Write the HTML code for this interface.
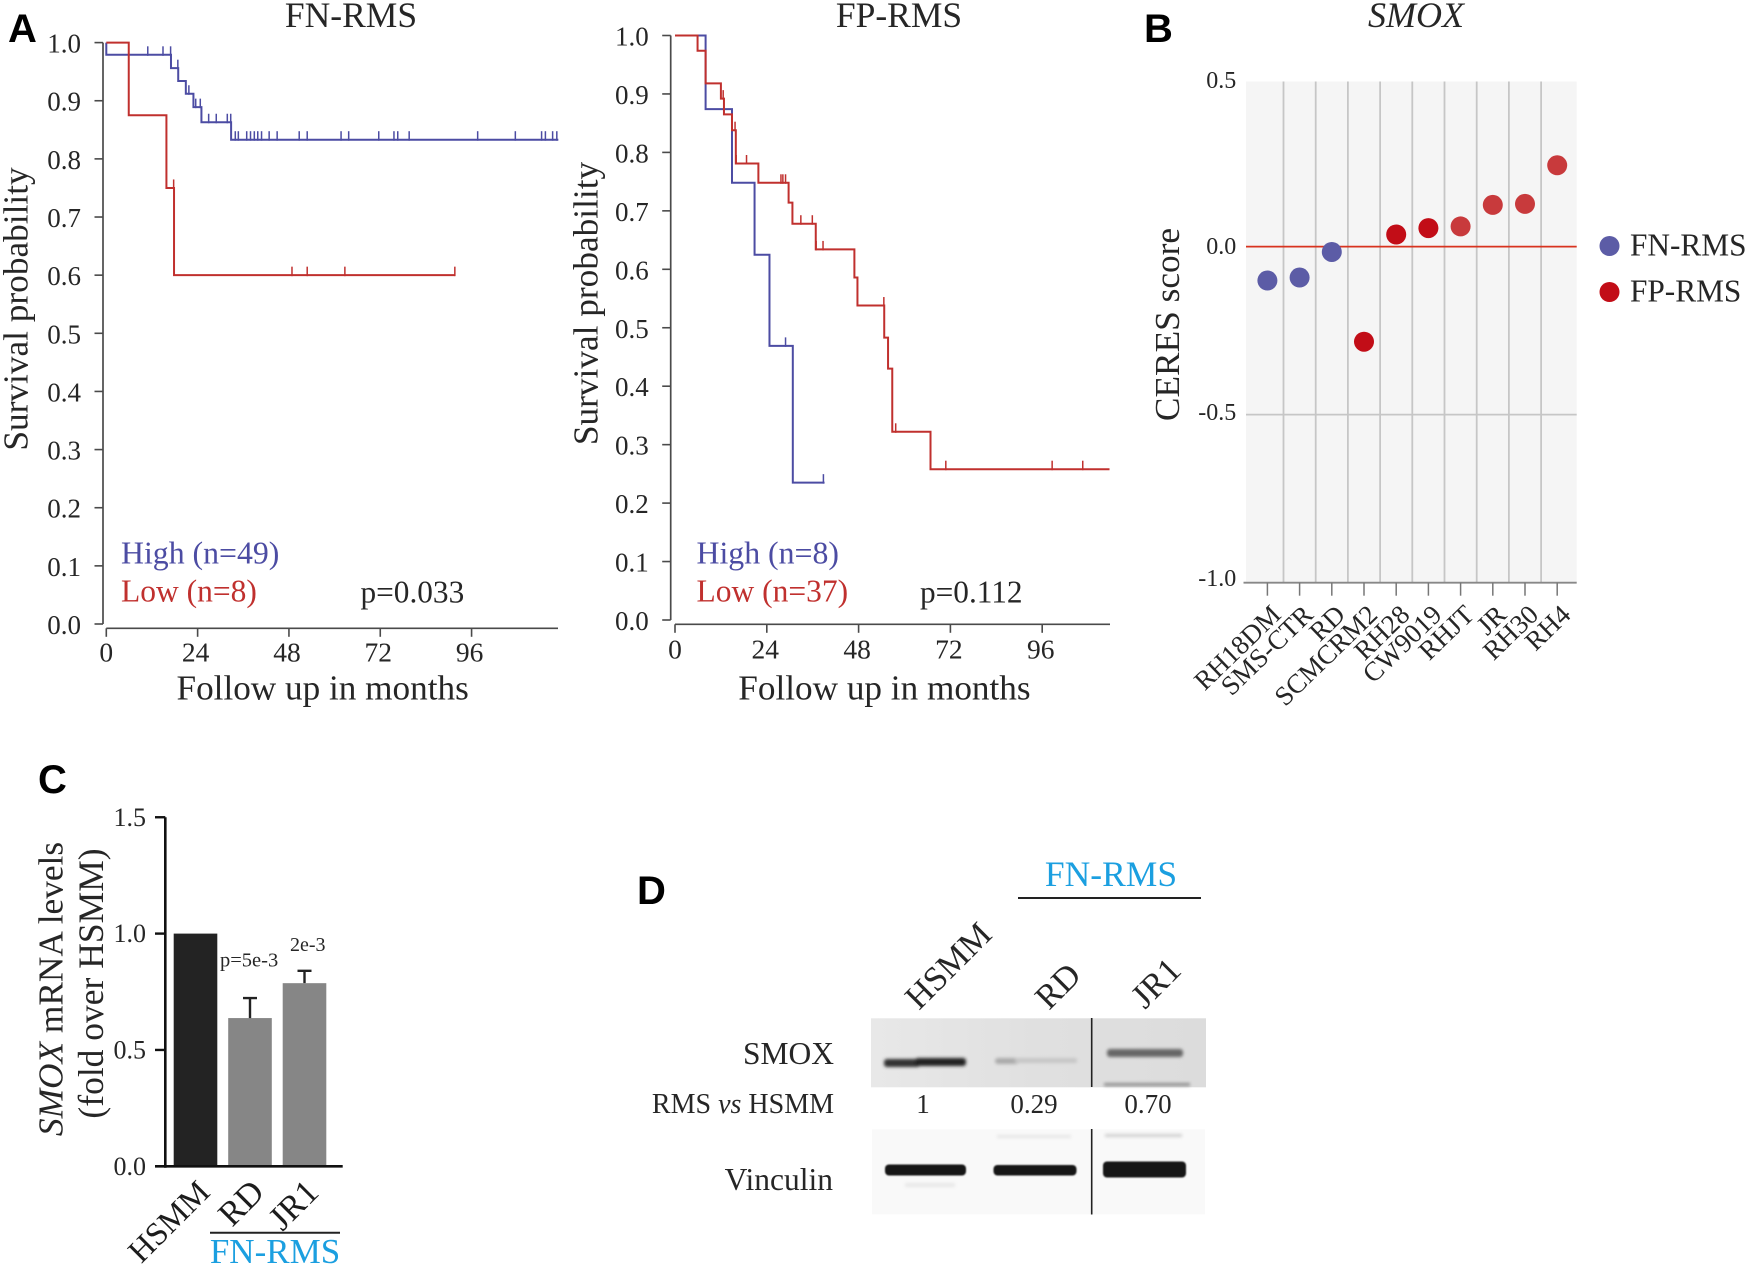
<!DOCTYPE html>
<html lang="en">
<head>
<meta charset="utf-8">
<title>SMOX survival, CERES score, mRNA and western blot figure</title>
<style>
html,body{margin:0;padding:0;background:#fff;width:1748px;height:1268px;overflow:hidden}
svg{display:block}
text{font-family:"Liberation Serif",serif;fill:#262626}
.letter{font-family:"Liberation Sans",sans-serif;font-weight:700;font-size:40px;fill:#000}
</style>
</head>
<body>
<svg id="figure" width="1748" height="1268" viewBox="0 0 1748 1268" xmlns="http://www.w3.org/2000/svg">
  <defs>
    <filter id="soft" x="-20%" y="-150%" width="140%" height="400%"><feGaussianBlur stdDeviation="1.6"/></filter>
    <filter id="softer" x="-20%" y="-50%" width="140%" height="200%"><feGaussianBlur stdDeviation="0.9"/></filter>
    <linearGradient id="blotShade" x1="0" y1="0" x2="1" y2="0"><stop offset="0" stop-color="#e8e8e8"/><stop offset="0.5" stop-color="#e0e0e0"/><stop offset="1" stop-color="#dcdcdc"/></linearGradient>
  </defs>
  <text class="letter" x="8" y="42">A</text>
  <text class="letter" x="1144" y="42">B</text>
  <text class="letter" x="38" y="793">C</text>
  <text class="letter" x="637" y="904">D</text>

  <g id="km-left"></g>
  <g id="km-right"></g>
  <g id="ceres"></g>
  <g id="bars"></g>

  <g>
    <text x="1111" y="886" font-size="35.5" text-anchor="middle" style="fill:#1b9fe0">FN-RMS</text>
    <line x1="1018" y1="898" x2="1201" y2="898" stroke="#222" stroke-width="2"/>
    <text transform="translate(919 1011) rotate(-45)" font-size="34.5">HSMM</text>
    <text transform="translate(1049 1011) rotate(-45)" font-size="34.5">RD</text>
    <text transform="translate(1145 1010) rotate(-45)" font-size="34.5">JR1</text>
    <rect x="871" y="1018.3" width="335" height="69" fill="url(#blotShade)"/>
    <g filter="url(#soft)">
      <rect x="884" y="1059" width="36" height="8" rx="3" fill="#333"/>
      <rect x="915" y="1058" width="51" height="8" rx="3" fill="#222"/>
      <rect x="995" y="1058" width="24" height="6" rx="3" fill="#aaa"/>
      <rect x="1015" y="1058" width="62" height="5" rx="2" fill="#c6c6c6"/>
      <rect x="1107" y="1049" width="76" height="8" rx="3" fill="#666"/>
      <rect x="1104" y="1083" width="86" height="3" fill="#8e8e8e"/>
    </g>
    <line x1="1091.7" y1="1018" x2="1091.7" y2="1087" stroke="#222" stroke-width="1.6"/>
    <rect x="872" y="1129.3" width="333" height="85" fill="#f9f9f9"/>
    <g filter="url(#soft)">
      <rect x="997" y="1135" width="74" height="3" fill="#e6e6e6"/>
      <rect x="1105" y="1134" width="77" height="3" fill="#cfcfcf"/>
      <rect x="905" y="1183" width="50" height="4" fill="#e8e8e8"/>
    </g>
    <g filter="url(#softer)">
      <rect x="885" y="1164.5" width="81" height="11" rx="4" fill="#141414"/>
      <rect x="993.5" y="1165" width="83" height="10.5" rx="4" fill="#141414"/>
      <rect x="1103" y="1161.5" width="83" height="16" rx="4" fill="#141414"/>
    </g>
    <line x1="1091.7" y1="1129" x2="1091.7" y2="1214.5" stroke="#222" stroke-width="1.6"/>
    <text x="834" y="1064" font-size="31.5" text-anchor="end">SMOX</text>
    <text x="834" y="1113" font-size="28" text-anchor="end">RMS <tspan font-style="italic">vs</tspan> HSMM</text>
    <text x="923" y="1113" font-size="27" text-anchor="middle">1</text>
    <text x="1034" y="1113" font-size="27" text-anchor="middle">0.29</text>
    <text x="1148" y="1113" font-size="27" text-anchor="middle">0.70</text>
    <text x="833" y="1190" font-size="31.5" text-anchor="end">Vinculin</text>
  </g>
</svg>

<script>
// ---------- Kaplan-Meier data (months / survival probability) ----------
const kmYTicks = [0.0, 0.1, 0.2, 0.3, 0.4, 0.5, 0.6, 0.7, 0.8, 0.9, 1.0];
const kmXTicks = [0, 24, 48, 72, 96];

const fnHighTimes = [0, 0, 17, 18.9, 20.9, 22.9, 25, 32.8];
const fnHighSurv = [1, 0.979, 0.956, 0.934, 0.912, 0.889, 0.863, 0.833];
const fnHighEnd = 118.8;
const fnHighCensor = [10.9, 14.9, 16.9, 18.8, 21.7, 23.5, 24.7, 26.9, 28.9, 31.8, 32.7, 33.9, 34.7, 36.9, 37.9, 38.9, 39.8, 40.8, 42.8, 44.9, 50.7, 52.8, 61.7, 63.7, 71.6, 75.6, 76.6, 79.6, 97.6, 107.5, 114.4, 115.4, 117.3, 118.4];
const fnLowTimes = [0, 5.9, 15.8, 17.8];
const fnLowSurv = [1, 0.875, 0.75, 0.6];
const fnLowEnd = 91.6;
const fnLowCensor = [17.7, 48.8, 52.8, 62.7, 91.6];

const fpHighTimes = [0, 8, 14.9, 20.8, 24.7, 30.8];
const fpHighSurv = [1, 0.874, 0.748, 0.625, 0.469, 0.235];
const fpHighEnd = 39.1;
const fpHighCensor = [28.9, 38.8];
const fpLowTimes = [0, 5.9, 8, 12, 12.8, 14.9, 15.9, 21.8, 29.7, 30.7, 36.8, 46.9, 47.7, 54.7, 55.7, 56.8, 66.8];
const fpLowSurv = [1, 0.974, 0.918, 0.892, 0.865, 0.838, 0.781, 0.748, 0.714, 0.678, 0.634, 0.586, 0.538, 0.483, 0.430, 0.322, 0.258];
const fpLowEnd = 113.6;
const fpLowCensor = [12.6, 15.7, 16, 18.7, 27.7, 28.2, 28.9, 32.9, 35.9, 36.9, 38.7, 54.6, 57.7, 70.8, 98.6, 106.6];

// ---------- CERES data ----------
const ceresLines = ['RH18DM', 'SMS-CTR', 'RD', 'SCMCRM2', 'RH28', 'CW9019', 'RHJT', 'JR', 'RH30', 'RH4'];
const ceresValues = [-0.101, -0.092, -0.016, -0.283, 0.036, 0.055, 0.060, 0.124, 0.127, 0.242];
const ceresGroups = ['FN', 'FN', 'FN', 'FP', 'FP', 'FP', 'FP', 'FP', 'FP', 'FP'];
const ceresYTicks = [0.5, 0.0, -0.5, -1.0];
const ceresLegend = ['FN-RMS', 'FP-RMS'];

// ---------- mRNA bar data ----------
const barCategories = ['HSMM', 'RD', 'JR1'];
const barValues = [1.0, 0.637, 0.787];
const barErrors = [0, 0.086, 0.053];
const barYTicks = [0.0, 0.5, 1.0, 1.5];
const barPLabels = ['', 'p=5e-3', '2e-3'];

const SVGNS = 'http://www.w3.org/2000/svg';
function mk(tag, parent, attrs, txt) {
  const n = document.createElementNS(SVGNS, tag);
  for (const k in attrs) n.setAttribute(k, attrs[k]);
  if (txt !== undefined) n.textContent = txt;
  parent.appendChild(n);
  return n;
}
const BLUE = '#4c4ca3', RED = '#c0302e', AXIS = '#4a4a4a';

function survivalAt(times, surv, t) {
  let s = surv[0];
  for (let i = 0; i < times.length; i++) { if (times[i] <= t) s = surv[i]; }
  return s;
}
function drawSeries(g, name, color, times, surv, end, censor, X, Y) {
  let d = 'M' + X(times[0]) + ' ' + Y(surv[0]);
  for (let i = 1; i < times.length; i++) {
    d += 'H' + X(times[i]) + 'V' + Y(surv[i]);
  }
  d += 'H' + X(end);
  const p = mk('path', g, {d: d, fill: 'none', stroke: color, 'stroke-width': 2});
  
  
  censor.forEach(function (t) {
    const v = survivalAt(times, surv, t);
    const c = mk('line', g, {x1: X(t), x2: X(t), y1: Y(v) + 1, y2: Y(v) - 8.5, stroke: color, 'stroke-width': 1.5});
    
    
  });
}
function drawKM(cfg) {
  const g = document.getElementById(cfg.id);
  const X = function (m) { return cfg.x0 + m * cfg.xk; };
  const Y = function (v) { return cfg.y0 - v * cfg.yk; };
  const ya = mk('line', g, {x1: cfg.axisX, x2: cfg.axisX, y1: Y(1), y2: Y(0), stroke: AXIS, 'stroke-width': 1.7});
  
  
  const xa = mk('line', g, {x1: X(0), x2: cfg.xEnd, y1: cfg.axisY, y2: cfg.axisY, stroke: AXIS, 'stroke-width': 1.7});
  
  
  kmYTicks.forEach(function (v) {
    const t = mk('line', g, {x1: cfg.axisX - 8.5, x2: cfg.axisX, y1: Y(v), y2: Y(v), stroke: AXIS, 'stroke-width': 1.6});
    
    
    const l = mk('text', g, {x: cfg.axisX - 22, y: Y(v) + 10, 'font-size': 27, 'text-anchor': 'end'}, v.toFixed(1));
    
    
  });
  kmXTicks.forEach(function (m) {
    const t = mk('line', g, {x1: X(m), x2: X(m), y1: cfg.axisY, y2: cfg.axisY + 8.5, stroke: AXIS, 'stroke-width': 1.6});
    
    
    const l = mk('text', g, {x: X(m) + (m === 0 ? 0 : cfg.tickShift), y: cfg.xLabelY, 'font-size': 27.5, 'text-anchor': 'middle'}, String(m));
    
    
  });
  const title = mk('text', g, {x: cfg.titleX, y: 27, 'font-size': 35.5, 'text-anchor': 'middle'}, cfg.title);
  
  
  const xt = mk('text', g, {x: cfg.xlabelX, y: 699.3, 'font-size': 35.2}, 'Follow up in months');
  
  
  const yt = mk('text', g, {transform: 'translate(' + cfg.ylabelX + ' ' + cfg.ylabelY + ') rotate(-90)', 'font-size': 35.3, 'text-anchor': 'middle'}, 'Survival probability');
  
  
  const hi = mk('text', g, {x: cfg.legendX, y: 563.5, 'font-size': 31.8, style: 'fill:' + BLUE}, cfg.highLabel);
  
  
  const lo = mk('text', g, {x: cfg.legendX, y: 601.7, 'font-size': 31.5, style: 'fill:' + RED}, cfg.lowLabel);
  
  
  const pv = mk('text', g, {x: cfg.pX, y: 602.5, 'font-size': 31.3}, cfg.p);
  
  
  drawSeries(g, 'high', BLUE, cfg.high[0], cfg.high[1], cfg.high[2], cfg.high[3], X, Y);
  drawSeries(g, 'low', RED, cfg.low[0], cfg.low[1], cfg.low[2], cfg.low[3], X, Y);
}

drawKM({id: 'km-left', title: 'FN-RMS', titleX: 351, x0: 106.3, xk: 3.805, y0: 624, yk: 581.4, axisX: 103, axisY: 628.3, xEnd: 558, xLabelY: 661.7, tickShift: -2,
  xlabelX: 176.5, ylabelX: 27.5, ylabelY: 309, legendX: 121, pX: 360.5, p: 'p=0.033', highLabel: 'High (n=49)', lowLabel: 'Low (n=8)',
  high: [fnHighTimes, fnHighSurv, fnHighEnd, fnHighCensor], low: [fnLowTimes, fnLowSurv, fnLowEnd, fnLowCensor]});
drawKM({id: 'km-right', title: 'FP-RMS', titleX: 899, x0: 675, xk: 3.825, y0: 620, yk: 584.5, axisX: 670.7, axisY: 624.3, xEnd: 1110, xLabelY: 658.3, tickShift: -1.5,
  xlabelX: 738.3, ylabelX: 597.5, ylabelY: 303.5, legendX: 696.5, pX: 920, p: 'p=0.112', highLabel: 'High (n=8)', lowLabel: 'Low (n=37)',
  high: [fpHighTimes, fpHighSurv, fpHighEnd, fpHighCensor], low: [fpLowTimes, fpLowSurv, fpLowEnd, fpLowCensor]});

// ---------- Panel B ----------
(function () {
  const g = document.getElementById('ceres');
  const Y = function (v) { return 246.6 - v * 336.1; };
  const LY = function (v) { return 254.2 - v * 332; };
  const X = function (i) { return 1267.4 + i * 32.2; };
  const right = 1576.7, left = 1246;
  const bg = mk('rect', g, {x: left, y: 81.5, width: right - left, height: Y(-1) - 81.5, fill: '#f5f5f5'});
  
  
  ceresLines.slice(1).forEach(function (_, i) {
    const gx = mk('line', g, {x1: X(i) + 16.1, x2: X(i) + 16.1, y1: 81.5, y2: Y(-1), stroke: '#c6c6c6', 'stroke-width': 1.8});
    
    
  });
  ceresYTicks.forEach(function (v) {
    if (v === -0.5) {
      const gy = mk('line', g, {x1: left, x2: right, y1: Y(v), y2: Y(v), stroke: '#c6c6c6', 'stroke-width': 1.8});
      
      
    }
    const l = mk('text', g, {x: 1236.3, y: LY(v), 'font-size': 24, 'text-anchor': 'end'}, v.toFixed(1));
    
    
  });
  const zero = mk('line', g, {x1: left, x2: right, y1: Y(0), y2: Y(0), stroke: '#d8331f', 'stroke-width': 1.8});
  
  
  const xa = mk('line', g, {x1: 1243.5, x2: right, y1: Y(-1), y2: Y(-1), stroke: '#888', 'stroke-width': 1.8});
  
  
  ceresLines.forEach(function (name, i) {
    const t = mk('line', g, {x1: X(i), x2: X(i), y1: Y(-1), y2: Y(-1) + 13, stroke: '#777', 'stroke-width': 1.5});
    
    
    const l = mk('text', g, {transform: 'translate(' + (X(i) + 15) + ' 616.5) rotate(-44)', 'font-size': 27, 'text-anchor': 'end'}, name);
    
    
    const lighter = i === 6 || i === 7 || i === 8 || i === 9;
    const fill = ceresGroups[i] === 'FN' ? '#5c5ca6' : (lighter ? '#c83a3c' : '#c20d17');
    const c = mk('circle', g, {cx: X(i), cy: Y(ceresValues[i]), r: 10, fill: fill});
    
    
  });
  ceresLegend.forEach(function (name, i) {
    const c = mk('circle', g, {cx: 1609.5, cy: 246 + i * 46, r: 10, fill: i === 0 ? '#5c5ca6' : '#c20d17'});
    
    
    const l = mk('text', g, {x: 1630, y: 255.5 + i * 46, 'font-size': 31.3}, name);
    
    
  });
  const title = mk('text', g, {x: 1416, y: 27, 'font-size': 36, 'font-style': 'italic', 'text-anchor': 'middle'}, 'SMOX');
  
  
  const yt = mk('text', g, {transform: 'translate(1179 324.5) rotate(-90)', 'font-size': 35.3, 'text-anchor': 'middle'}, 'CERES score');
  
  
})();

// ---------- Panel C ----------
(function () {
  const g = document.getElementById('bars');
  const Y = function (v) { return 1166.3 - v * 232.7; };
  const X = function (i) { return 173.7 + i * 54.5; };
  const w = 43.6;
  barCategories.forEach(function (name, i) {
    const b = mk('rect', g, {x: X(i), y: Y(barValues[i]), width: w, height: Y(0) - Y(barValues[i]), fill: i === 0 ? '#232323' : '#868686'});
    
    
    if (barErrors[i] > 0) {
      const top = Y(barValues[i] + barErrors[i]);
      const e = mk('path', g, {d: 'M' + (X(i) + w / 2) + ' ' + Y(barValues[i]) + 'V' + top + 'm-7 0h14', fill: 'none', stroke: '#222', 'stroke-width': 2.4});
      
      
    }
    const l = mk('text', g, {transform: 'translate(' + (X(i) + w / 2 + 16) + ' 1194) rotate(-45)', 'font-size': i === 0 ? 32.5 : 34.5, 'text-anchor': 'end', style: 'fill:#1c1c1c'}, name);
    
    
  });
  const pl0 = mk('text', g, {x: 220, y: 966.5, 'font-size': 20.5}, barPLabels[1]);
  
  
  const pl1 = mk('text', g, {x: 290, y: 951, 'font-size': 20}, barPLabels[2]);
  
  
  const ya = mk('line', g, {x1: 165.3, x2: 165.3, y1: Y(1.5), y2: Y(0) + 1.5, stroke: '#111', 'stroke-width': 2.6});
  
  
  const xa = mk('line', g, {x1: 155, x2: 342.7, y1: Y(0), y2: Y(0), stroke: '#111', 'stroke-width': 2.6});
  
  
  barYTicks.forEach(function (v) {
    const t = mk('line', g, {x1: 155, x2: 165.3, y1: Y(v), y2: Y(v), stroke: '#111', 'stroke-width': 2.4});
    
    
    const l = mk('text', g, {x: 146, y: Y(v) + 8.5, 'font-size': 26, 'text-anchor': 'end'}, v.toFixed(1));
    
    
  });
  const y1 = mk('text', g, {transform: 'translate(62.5 989) rotate(-90)', 'font-size': 35.3, 'text-anchor': 'middle'});
  
  
  const it = mk('tspan', y1, {'font-style': 'italic'}, 'SMOX');
  
  
  y1.appendChild(document.createTextNode(' mRNA levels'));
  const y2 = mk('text', g, {transform: 'translate(103 983.5) rotate(-90)', 'font-size': 35.5, 'text-anchor': 'middle'}, '(fold over HSMM)');
  
  
  const bl = mk('line', g, {x1: 210, x2: 340, y1: 1232.7, y2: 1232.7, stroke: '#222', 'stroke-width': 2});
  
  
  const gl = mk('text', g, {x: 275, y: 1263, 'font-size': 35, 'text-anchor': 'middle', style: 'fill:#1b9fe0'}, 'FN-RMS');
  
  
})();
</script>
</body>
</html>
